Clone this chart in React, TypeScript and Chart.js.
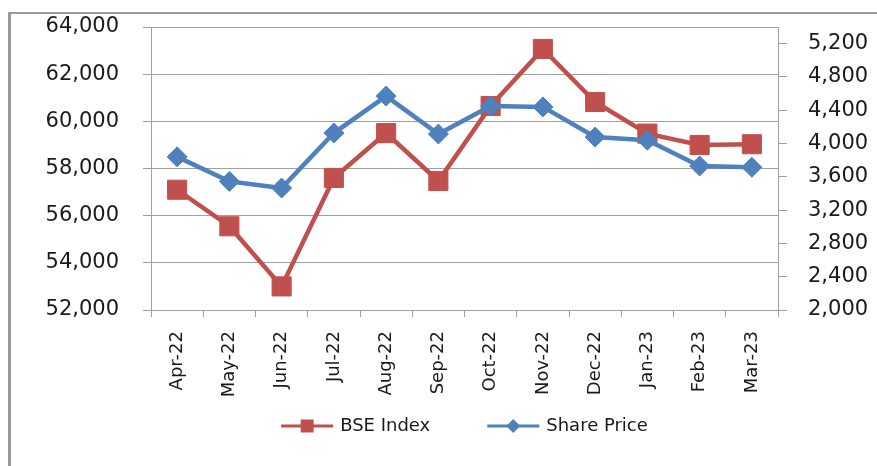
import React, { useEffect, useRef } from 'react';
import { Chart, registerables } from 'chart.js';

Chart.register(...registerables);

const categories = ['Apr-22', 'May-22', 'Jun-22', 'Jul-22', 'Aug-22', 'Sep-22', 'Oct-22', 'Nov-22', 'Dec-22', 'Jan-23', 'Feb-23', 'Mar-23'];
const bseIndex = [57100, 55550, 53000, 57600, 59500, 57470, 60650, 63070, 60820, 59480, 59000, 59030];
const sharePrice = [3840, 3545, 3465, 4126, 4570, 4114, 4450, 4440, 4078, 4040, 3730, 3715];
const leftTicks = [52000, 54000, 56000, 58000, 60000, 62000, 64000];
const rightTicks = [2000, 2400, 2800, 3200, 3600, 4000, 4400, 4800, 5200];

const FONT = '"DejaVu Sans", sans-serif';
const TEXT = '#1a1a1a';
const GRID = '#a0a0a0';
const RED = '#c0504d';
const BLUE = '#4f81bd';

const fmt = (v: number) => Number(v).toLocaleString('en-US');

const framePlugin = {
  id: 'frame',
  beforeDraw(chart: any) {
    const ctx = chart.ctx;
    ctx.save();
    ctx.fillStyle = '#ffffff';
    ctx.fillRect(0, 0, chart.width, chart.height);
    ctx.fillStyle = '#9a9a9a';
    ctx.fillRect(8, 12, 3, chart.height - 12);
    ctx.fillRect(8, 12, chart.width - 8, 2);
    ctx.restore();
  },
};

function drawMarker(ctx: CanvasRenderingContext2D, style: string, x: number, y: number, r: number, color: string) {
  ctx.fillStyle = color;
  ctx.beginPath();
  if (style === 'rect') {
    ctx.rect(x - r, y - r, 2 * r, 2 * r);
  } else {
    ctx.moveTo(x - r, y);
    ctx.lineTo(x, y - r);
    ctx.lineTo(x + r, y);
    ctx.lineTo(x, y + r);
    ctx.closePath();
  }
  ctx.fill();
}

const legendPlugin = {
  id: 'lineLegend',
  afterDraw(chart: any) {
    const ctx: CanvasRenderingContext2D = chart.ctx;
    const area = chart.chartArea;
    ctx.save();
    ctx.font = `18px ${FONT}`;
    const lineLen = 52;
    const gapText = 7;
    const gapItem = 57;
    const items = chart.data.datasets.map((ds: any) => ({ ds, w: ctx.measureText(ds.label).width }));
    const total = items.reduce((s: number, it: any) => s + lineLen + gapText + it.w, 0) + gapItem * (items.length - 1);
    let x = (area.left + area.right) / 2 - total / 2;
    const y = 426;
    for (const it of items) {
      const ds = it.ds;
      ctx.strokeStyle = ds.borderColor;
      ctx.lineWidth = 3;
      ctx.beginPath();
      ctx.moveTo(x, y);
      ctx.lineTo(x + lineLen, y);
      ctx.stroke();
      drawMarker(ctx, ds.pointStyle, x + lineLen / 2, y, ds.pointStyle === 'rect' ? 6.5 : 7, ds.borderColor);
      ctx.fillStyle = TEXT;
      ctx.textAlign = 'left';
      ctx.textBaseline = 'middle';
      ctx.fillText(ds.label, x + lineLen + gapText, y);
      x += lineLen + gapText + it.w + gapItem;
    }
    ctx.restore();
  },
};

const noPad = (scale: any) => {
  scale.paddingTop = 0;
  scale.paddingBottom = 0;
};

export default function App() {
  const canvasRef = useRef<HTMLCanvasElement | null>(null);

  useEffect(() => {
    if (!canvasRef.current) return;
    const chart = new Chart(canvasRef.current, {
      type: 'line',
      data: {
        labels: categories,
        datasets: [
          {
            label: 'BSE Index',
            data: bseIndex,
            yAxisID: 'y',
            borderColor: RED,
            backgroundColor: RED,
            borderWidth: 4.5,
            pointStyle: 'rect',
            pointRadius: 13.5,
            pointBorderWidth: 1,
            pointBackgroundColor: RED,
            pointBorderColor: RED,
            tension: 0,
            order: 1,
          },
          {
            label: 'Share Price',
            data: sharePrice,
            yAxisID: 'y1',
            borderColor: BLUE,
            backgroundColor: BLUE,
            borderWidth: 4.5,
            pointStyle: 'rectRot',
            pointRadius: 10,
            pointBorderWidth: 1,
            pointBackgroundColor: BLUE,
            pointBorderColor: BLUE,
            tension: 0,
            order: 0,
          },
        ],
      },
      options: {
        responsive: false,
        animation: false,
        events: [],
        layout: { padding: { left: 0, right: 0, top: 27, bottom: 56 } },
        plugins: {
          legend: { display: false },
          tooltip: { enabled: false },
          title: { display: false },
        },
        scales: {
          x: {
            type: 'category',
            offset: true,
            grid: { offset: true, drawOnChartArea: false, tickLength: 7, color: GRID },
            border: { display: true, color: GRID, width: 1 },
            ticks: {
              autoSkip: false,
              maxRotation: 90,
              minRotation: 90,
              padding: 14,
              color: TEXT,
              font: { family: FONT, size: 18 },
            },
            afterFit(scale: any) {
              scale.height = 100;
              scale.paddingLeft = 0;
              scale.paddingRight = 0;
            },
          },
          y: {
            position: 'left',
            min: 52000,
            max: 64000,
            grid: { color: GRID, tickLength: 8, lineWidth: 1 },
            border: { display: true, color: GRID, width: 1 },
            ticks: {
              padding: 24,
              color: TEXT,
              font: { family: FONT, size: 21 },
              callback: (v: any) => fmt(v),
            },
            afterBuildTicks(scale: any) {
              scale.ticks = leftTicks.map((v) => ({ value: v }));
            },
            afterFit(scale: any) {
              scale.width = 151;
              noPad(scale);
            },
          },
          y1: {
            position: 'right',
            min: 2000,
            max: 5400,
            grid: { drawOnChartArea: false, tickLength: 9, color: GRID },
            border: { display: true, color: GRID, width: 1 },
            ticks: {
              padding: 21,
              color: TEXT,
              font: { family: FONT, size: 21 },
              callback: (v: any) => fmt(v),
            },
            afterBuildTicks(scale: any) {
              scale.ticks = rightTicks.map((v) => ({ value: v }));
            },
            afterFit(scale: any) {
              scale.width = 99;
              noPad(scale);
            },
          },
        },
      },
      plugins: [framePlugin, legendPlugin],
    });
    return () => chart.destroy();
  }, []);

  return (
    <div style={{ position: 'fixed', left: 0, top: 0, width: 877, height: 466, background: '#fff' }}>
      <canvas ref={canvasRef} width={877} height={466} style={{ display: 'block', width: 877, height: 466 }} />
    </div>
  );
}
